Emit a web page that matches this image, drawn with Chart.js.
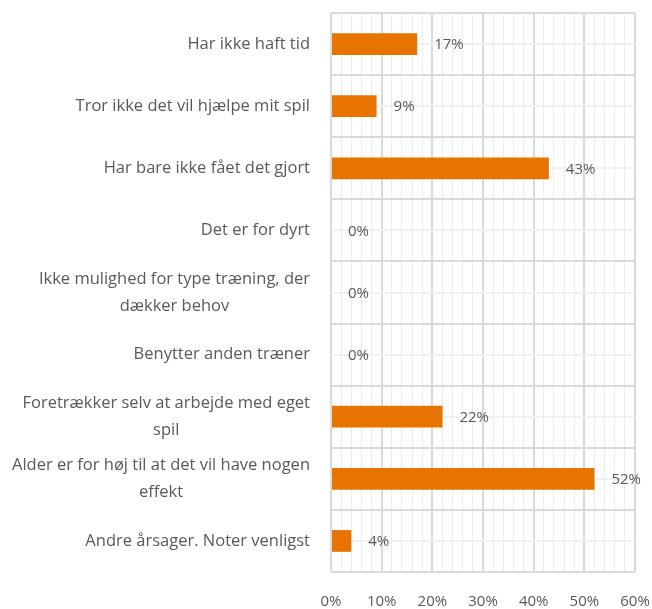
<!DOCTYPE html>
<html lang="da">
<head>
  <meta charset="UTF-8">
  <title>Årsager</title>
  <script src="https://cdn.jsdelivr.net/npm/chart.js@4.4.0/dist/chart.umd.min.js"></script>
  <style>
    html, body { margin: 0; padding: 0; background: #fff; }
    #wrap { width: 652px; height: 609px; }
  </style>
</head>
<body>
  <div id="wrap"><canvas id="chart"></canvas></div>
  <script>
    // data
    var categories = [
      ['Har ikke haft tid'],
      ['Tror ikke det vil hjælpe mit spil'],
      ['Har bare ikke fået det gjort'],
      ['Det er for dyrt'],
      ['Ikke mulighed for type træning, der', 'dækker behov'],
      ['Benytter anden træner'],
      ['Foretrækker selv at arbejde med eget', 'spil'],
      ['Alder er for høj til at det vil have nogen', 'effekt'],
      ['Andre årsager. Noter venligst']
    ];
    var values = [17, 9, 43, 0, 0, 0, 22, 52, 4];
    var xTicks = [0, 10, 20, 30, 40, 50, 60];

    var FONT = '"Open Sans", sans-serif';
    var TEXT = '#595959';

    // y labels: block right aligned, lines centred inside the block
    var sideLabels = {
      id: 'sideLabels',
      afterDraw: function (chart) {
        var ctx = chart.ctx, y = chart.scales.y;
        ctx.save();
        ctx.font = '16.5px ' + FONT;
        ctx.fillStyle = TEXT;
        ctx.textBaseline = 'middle';
        ctx.textAlign = 'center';
        var right = chart.chartArea.left - 21, lh = 27;
        categories.forEach(function (lines, i) {
          var w = Math.max.apply(null, lines.map(function (l) { return ctx.measureText(l).width; }));
          var cx = right - w / 2;
          var cy = y.getPixelForValue(i) - (lines.length - 1) * lh / 2;
          lines.forEach(function (l, k) { ctx.fillText(l, cx, cy + k * lh); });
        });
        ctx.restore();
      }
    };

    // value labels after each bar
    var valueLabels = {
      id: 'valueLabels',
      afterDatasetsDraw: function (chart) {
        var ctx = chart.ctx;
        var meta = chart.getDatasetMeta(0);
        ctx.save();
        ctx.font = '15px ' + FONT;
        ctx.fillStyle = TEXT;
        ctx.textBaseline = 'middle';
        ctx.textAlign = 'left';
        meta.data.forEach(function (bar, i) {
          ctx.fillText(values[i] + '%', bar.x + 17, bar.y + 1);
        });
        ctx.restore();
      }
    };

    // light line through the middle of each row
    var rowLines = {
      id: 'rowLines',
      beforeDatasetsDraw: function (chart) {
        var ctx = chart.ctx, a = chart.chartArea, y = chart.scales.y;
        ctx.save();
        ctx.strokeStyle = '#f0f0f0';
        ctx.lineWidth = 2;
        values.forEach(function (v, i) {
          var py = Math.round(y.getPixelForValue(i));
          ctx.beginPath();
          ctx.moveTo(a.left, py);
          ctx.lineTo(a.right, py);
          ctx.stroke();
        });
        ctx.restore();
      }
    };

    new Chart(document.getElementById('chart'), {
      type: 'bar',
      data: {
        labels: categories,
        datasets: [{
          data: values,
          backgroundColor: '#e87400',
          barPercentage: 0.35,
          categoryPercentage: 1
        }]
      },
      options: {
        indexAxis: 'y',
        responsive: true,
        maintainAspectRatio: false,
        animation: false,
        layout: { padding: { left: 331, right: 17, top: 13, bottom: 0 } },
        plugins: {
          legend: { display: false },
          tooltip: { enabled: false }
        },
        scales: {
          x: {
            min: xTicks[0],
            max: xTicks[xTicks.length - 1],
            border: { display: false },
            afterFit: function (s) {
              s.height = 37;
              s.paddingLeft = 0;
              s.paddingRight = 0;
            },
            grid: {
              color: function (c) { return c.tick && c.tick.value % 10 === 0 ? '#d9d9d9' : '#ebebeb'; },
              lineWidth: function (c) { return c.tick && c.tick.value % 10 === 0 ? 2 : 1; },
              drawTicks: false
            },
            ticks: {
              stepSize: 2,
              autoSkip: false,
              maxRotation: 0,
              padding: 21,
              color: TEXT,
              font: { family: FONT, size: 15 },
              callback: function (v) { return xTicks.indexOf(v) >= 0 ? v + '%' : ''; }
            }
          },
          y: {
            border: { display: false },
            grid: { color: '#d9d9d9', lineWidth: 2, offset: true, drawTicks: false },
            ticks: { display: false }
          }
        }
      },
      plugins: [rowLines, valueLabels, sideLabels]
    });
  </script>
</body>
</html>
